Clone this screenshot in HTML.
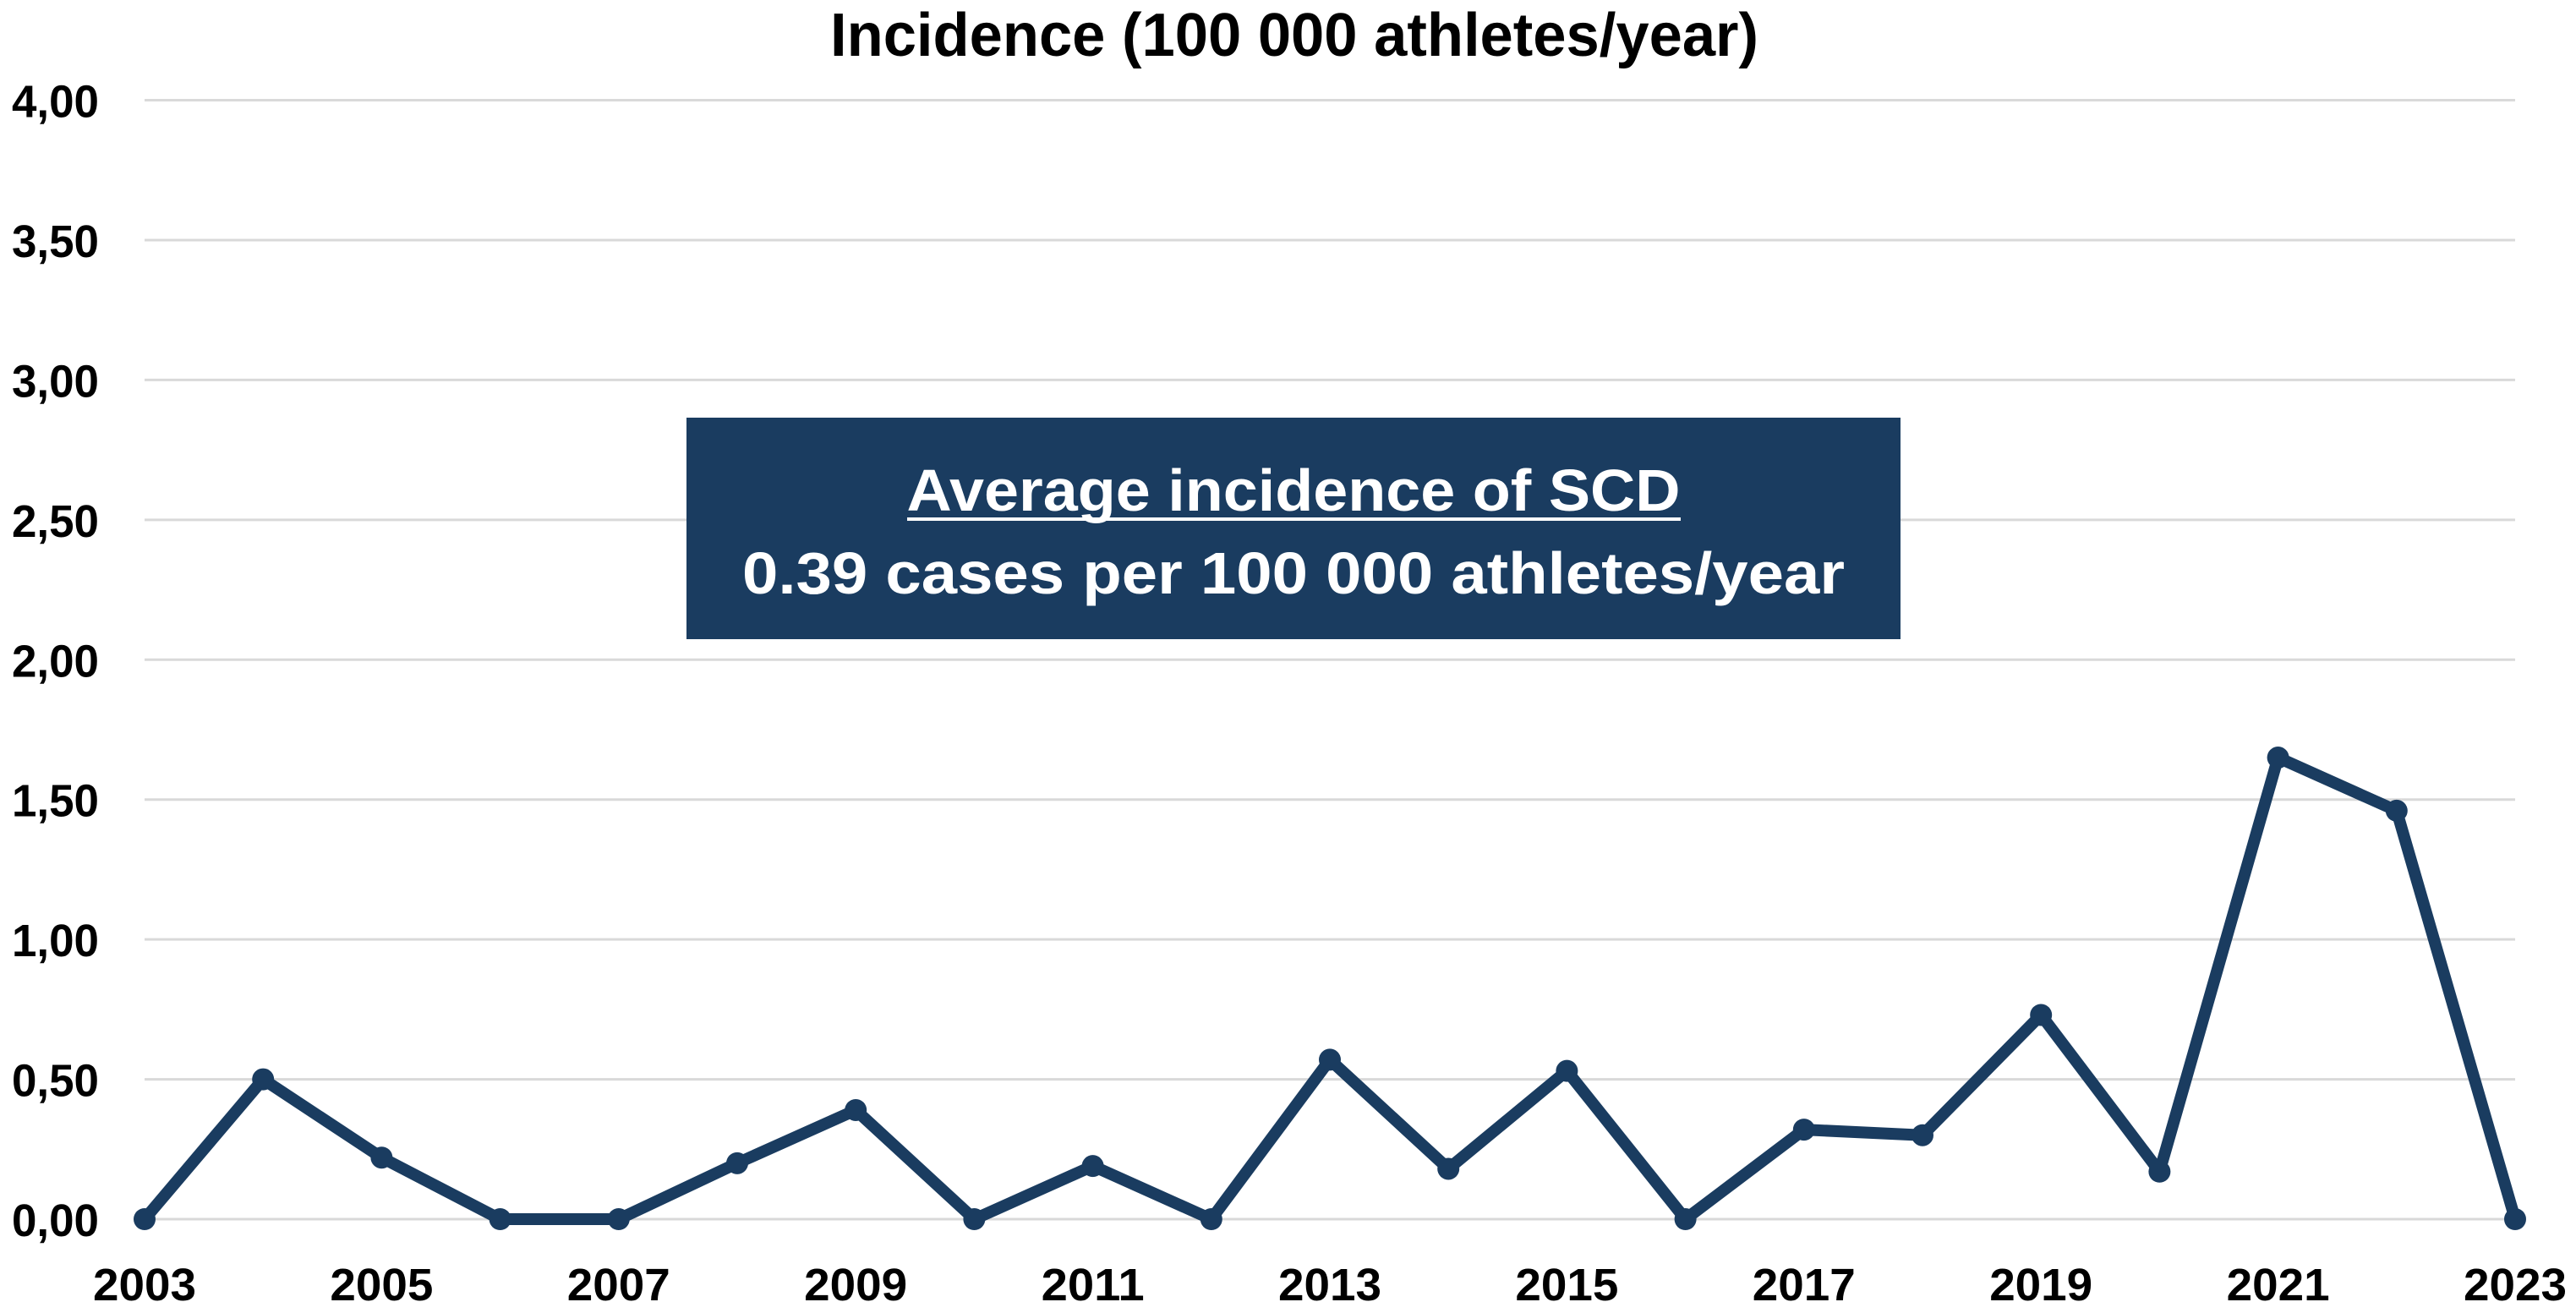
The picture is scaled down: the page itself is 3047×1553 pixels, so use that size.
<!DOCTYPE html>
<html><head><meta charset="utf-8"><style>html,body{margin:0;padding:0;background:#fff}svg{display:block}text{font-family:"Liberation Sans",sans-serif;font-weight:bold}</style></head>
<body>
<svg id="chart" width="3047" height="1553" viewBox="0 0 3047 1553" xmlns="http://www.w3.org/2000/svg">
<text x="1531" y="66" text-anchor="middle" font-size="72" textLength="1098" lengthAdjust="spacingAndGlyphs" fill="#000">Incidence (100 000 athletes/year)</text>
<g id="grid"></g>
<g id="yticks"></g>
<g id="xticks"></g>
<g id="series"></g>
<g>
<rect x="812" y="494" width="1436" height="262" fill="#1a3c60"/>
<text x="1530" y="604" text-anchor="middle" font-size="70" fill="#fff" textLength="915" lengthAdjust="spacingAndGlyphs">Average incidence of SCD</text>
<line x1="1073" x2="1988" y1="614" y2="614" stroke="#fff" stroke-width="4"/>
<text x="1530" y="702" text-anchor="middle" font-size="70" fill="#fff" textLength="1304" lengthAdjust="spacingAndGlyphs">0.39 cases per 100 000 athletes/year</text>
</g>
</svg>
<script>
const years = [2003,2004,2005,2006,2007,2008,2009,2010,2011,2012,2013,2014,2015,2016,2017,2018,2019,2020,2021,2022,2023];
const incidence = [0,0.50,0.22,0,0,0.20,0.39,0,0.19,0,0.57,0.18,0.53,0,0.32,0.30,0.73,0.17,1.65,1.46,0];
const yTicks = [0,0.5,1,1.5,2,2.5,3,3.5,4];
const yTickLabels = ["0,00","0,50","1,00","1,50","2,00","2,50","3,00","3,50","4,00"];
const xTickLabels = ["2003","2005","2007","2009","2011","2013","2015","2017","2019","2021","2023"];

const NS = "http://www.w3.org/2000/svg";
const X0 = 171, X1 = 2975, Y0 = 1442, Y1 = 118.5;
function xScale(i){ return X0 + (X1 - X0) * (i - years[0]) / (years[years.length-1] - years[0]); }
function yScale(v){ return Y0 - (Y0 - Y1) * v / 4; }
function mk(tag, attrs){ const e = document.createElementNS(NS, tag); for (const k in attrs) e.setAttribute(k, attrs[k]); return e; }

const grid = document.getElementById('grid');
const yt = document.getElementById('yticks');
yTicks.forEach((v, i) => {
  const l = mk('line', {x1: X0, x2: X1, y1: yScale(v), y2: yScale(v), stroke: '#d9d9d9', 'stroke-width': 3});
  
  
  grid.appendChild(l);
  const t = mk('text', {x: 117, y: yScale(v) + 20, 'text-anchor': 'end', 'font-size': 54, textLength: 103, lengthAdjust: 'spacingAndGlyphs'});
  t.textContent = yTickLabels[i];
  
  
  yt.appendChild(t);
});
const xt = document.getElementById('xticks');
xTickLabels.forEach(lbl => {
  const t = mk('text', {x: xScale(+lbl), y: 1538, 'text-anchor': 'middle', 'font-size': 54, textLength: 122, lengthAdjust: 'spacingAndGlyphs'});
  t.textContent = lbl;
  
  
  xt.appendChild(t);
});
const s = document.getElementById('series');
const pts = years.map((y, i) => xScale(y) + ',' + yScale(incidence[i])).join(' ');
const pl = mk('polyline', {points: pts, fill: 'none', stroke: '#1a3c60', 'stroke-width': 14, 'stroke-linejoin': 'round'});


s.appendChild(pl);
years.forEach((y, i) => {
  const c = mk('circle', {cx: xScale(y), cy: yScale(incidence[i]), r: 13, fill: '#1a3c60'});
  
  
  s.appendChild(c);
});
</script>
</body></html>
